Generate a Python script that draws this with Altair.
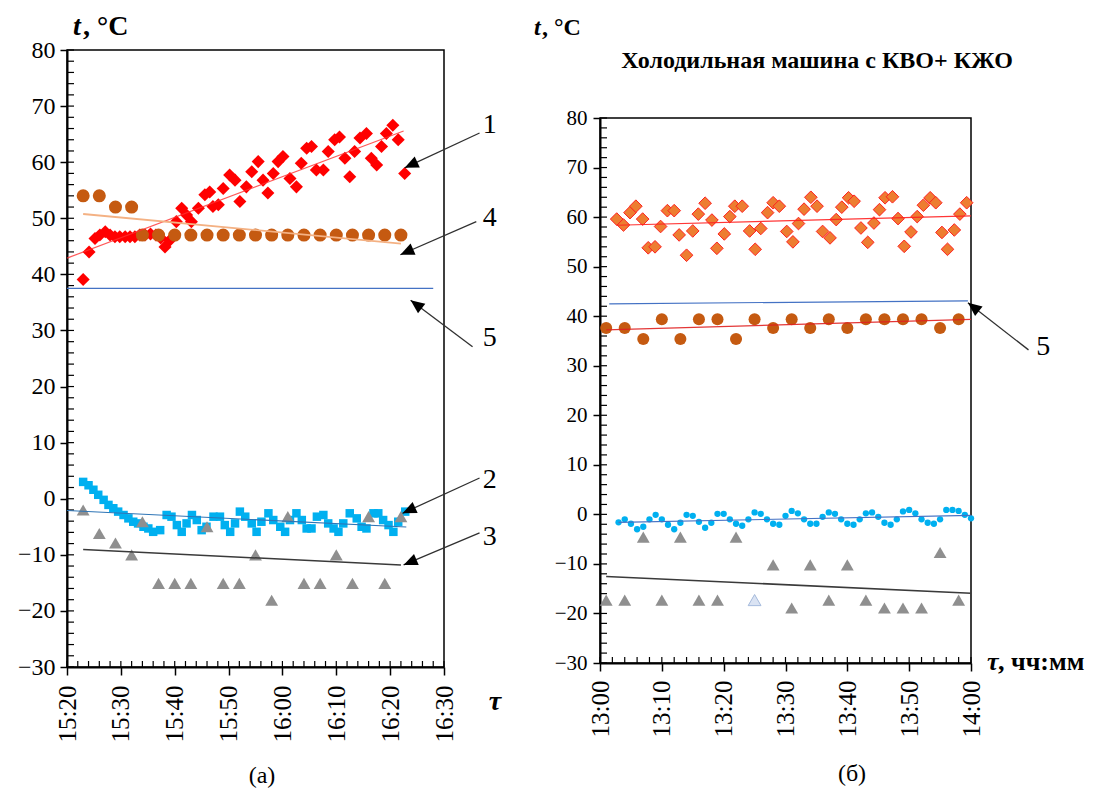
import altair as alt
import pandas as pd

FONT = "Liberation Serif"

# ---------------- Panel (а): 15:20-16:30 (minutes of the day) ----------------
a1_time = [923.0, 924.1, 925.2, 926.1, 927.1, 928.0, 928.9, 929.8, 930.8, 931.7, 932.6, 933.5, 934.5,
           935.5, 936.5, 937.4, 938.2, 939.1, 940.3, 941.3, 942.2, 943.1, 944.4, 945.6, 946.5, 947.1,
           948.1, 949.0, 950.2, 951.2, 952.1, 953.3, 954.3, 955.5, 956.4, 957.3, 958.3, 959.2, 960.1,
           961.4, 962.6, 963.5, 964.5, 965.4, 966.3, 967.6, 968.5, 969.7, 970.6, 971.6, 972.5, 973.4,
           974.4, 975.6, 976.5, 977.5, 978.4, 979.3, 980.5, 981.5, 982.7]
a1_temp = [39.1, 44.0, 46.4, 47.0, 47.6, 47.0, 46.7, 46.7, 46.7, 46.7, 46.7, 47.0, 47.0,
           47.2, 47.0, 46.5, 44.9, 46.1, 49.4, 51.8, 50.6, 49.4, 51.8, 54.2, 54.7, 52.1,
           52.4, 55.3, 57.7, 56.8, 53.0, 55.6, 58.3, 60.1, 56.8, 54.5, 58.0, 60.1, 61.0,
           57.1, 55.6, 59.8, 62.5, 62.8, 58.6, 58.6, 61.9, 64.0, 64.5, 60.7, 57.4, 61.9,
           64.3, 65.1, 60.7, 59.5, 62.8, 65.1, 66.6, 64.0, 58.0]

a2_time = [923.0, 924.0, 924.9, 925.8, 926.8, 927.7, 928.6, 929.5, 930.5, 931.4, 932.3, 933.2, 934.2,
           935.1, 936.0, 937.3, 938.5, 939.4, 940.4, 941.3, 942.2, 943.2, 944.1, 945.0, 945.9, 947.2,
           948.4, 949.3, 950.3, 951.2, 952.1, 953.1, 954.3, 955.2, 956.1, 957.4, 958.3, 959.6, 960.5,
           961.4, 962.6, 963.6, 964.5, 965.4, 966.4, 967.6, 968.5, 969.5, 970.4, 971.3, 972.5, 973.8,
           974.7, 975.6, 976.9, 977.8, 978.7, 979.7, 980.6, 981.5, 982.8]
a2_temp = [3.0, 2.4, 1.6, 0.7, -0.2, -1.1, -1.7, -2.3, -2.9, -3.5, -4.1, -4.4, -5.0,
           -5.3, -5.9, -5.6, -2.9, -3.2, -4.7, -5.9, -4.4, -2.9, -3.8, -5.6, -5.0, -3.2,
           -3.2, -4.7, -5.9, -4.4, -2.3, -3.2, -4.4, -5.9, -4.1, -2.6, -3.8, -5.0, -5.9,
           -3.8, -2.6, -3.8, -5.3, -5.3, -3.2, -2.9, -4.4, -5.3, -5.9, -4.4, -2.6, -3.5,
           -5.0, -5.3, -2.6, -2.6, -3.8, -4.7, -5.9, -4.1, -2.3]

a34_time = [923, 926, 929, 932, 934, 937, 940, 943, 946, 949, 952, 955, 958, 961, 964, 967,
            970, 973, 976, 979, 982]
a3_temp = [-2.0, -6.2, -7.9, -10.0, -4.1, -15.1, -15.1, -15.1, -5.0, -15.1, -15.1, -10.0, -18.1,
           -3.2, -15.1, -15.1, -10.0, -15.1, -3.2, -15.1, -3.2]
a4_temp = [54, 54, 52, 52, 47, 47, 47, 47, 47, 47, 47, 47, 47, 47, 47, 47, 47, 47, 47, 47, 47]

a5_time = [920, 988]
a5_temp = [37.5, 37.5]

# arrows of panel (а): label, start (t, v), tip (t, v), head angle
a_lab = ["1", "4", "5", "2", "3"]
a_lab_v = [66.6, 50.1, 28.7, 3.4, -6.8]
a_t0 = [996.6, 996.0, 995.3, 996.6, 996.6]
a_v0 = [65.2, 49.4, 27.1, 3.7, -6.1]
a_t1 = [982.7, 981.9, 983.8, 982.3, 982.5]
a_v1 = [59.0, 43.5, 35.4, -2.6, -11.8]
a_ang = [245, 246, 307, 245.5, 247]

# ---------------- Panel (б): 13:00-14:00 ----------------
b1_time = [782.7, 783.8, 784.85, 785.8, 786.9, 787.8, 788.9, 789.8, 790.9, 792.0, 792.8, 794.0,
           795.0, 795.9, 797.0, 798.1, 798.9, 800.1, 801.0, 801.8, 803.0, 804.2, 805.1, 806.0,
           807.1, 808.0, 809.0, 810.2, 811.2, 812.1, 813.0, 814.1, 815.1, 816.0, 817.2, 818.2,
           819.1, 820.2, 821.1, 822.2, 823.3, 824.3, 825.2, 826.1, 827.3, 828.2, 829.2, 830.3,
           831.3, 832.3, 833.4, 834.3, 835.3, 836.2, 837.3, 838.2, 839.3]
b1_temp = [59.6, 58.4, 60.9, 62.2, 59.6, 53.8, 54.0, 58.1, 61.3, 61.3, 56.4, 52.3, 57.2, 60.6,
           62.8, 59.4, 53.7, 56.6, 60.1, 62.2, 62.2, 57.2, 53.5, 57.7, 60.9, 62.9, 62.2, 57.1,
           55.0, 58.7, 61.6, 64.0, 62.2, 57.1, 55.8, 59.5, 62.0, 63.9, 63.2, 57.8, 54.9, 58.8,
           61.5, 63.9, 64.1, 59.7, 54.1, 57.0, 60.1, 62.4, 63.9, 62.9, 56.9, 53.5, 57.4, 60.6, 62.9]

b2_time = list(range(783, 841))
b2_temp = [-1.6, -1.0, -1.9, -3.0, -2.5, -1.0, -0.1, -1.0, -2.1, -3.0, -1.7, -0.1, -0.3, -1.5,
           -2.7, -1.7, 0.1, 0.1, -1.0, -1.9, -2.3, -1.0, 0.4, 0.1, -1.0, -1.9, -2.1, -0.3,
           0.7, 0.2, -1.0, -1.9, -1.9, -0.5, 0.4, 0.1, -1.0, -1.9, -2.1, -1.0, 0.2, 0.4,
           -0.5, -1.7, -2.1, -1.0, 0.6, 0.9, 0.2, -1.0, -1.7, -1.9, -1.0, 0.9, 0.9, 0.7, -0.1, -0.8]

b34_time = [781, 784, 787, 790, 793, 796, 799, 802, 805, 808, 811, 814, 817, 820, 823, 826,
            829, 832, 835, 838]
b3_temp = [-17.3, -17.3, -4.6, -17.3, -4.6, -17.3, -17.3, -4.6, -17.3, -10.2, -18.9, -10.2,
           -17.3, -10.2, -17.3, -18.9, -18.9, -18.9, -7.7, -17.3]
b3_pale_time = [805]
b3_pale_temp = [-17.3]
b4_temp = [37.6, 37.6, 35.4, 39.4, 35.4, 39.4, 39.4, 35.4, 39.4, 37.6, 39.4, 37.6, 39.4, 37.6,
           39.4, 39.4, 39.4, 39.4, 37.6, 39.4]

b5_time = [781.5, 839.5]
b5_temp = [42.5, 43.1]

b_lab = ["5"]
b_lab_v = [33.8]
b_t0 = [849.3]
b_v0 = [33.2]
b_t1 = [839.5]
b_v1 = [42.7]
b_ang = [308]

# tick values
Y_MAJ = list(range(-30, 81, 10))
Y_MIN = list(range(-30, 81, 2))
A_XMAJ = list(range(920, 991, 10))
A_XMIN = list(range(920, 991, 2))
B_XMAJ = list(range(780, 841, 10))
B_XMIN = list(range(780, 841, 2))

LBL = "floor(datum.value/60) + ':' + (datum.value % 60 < 10 ? '0' : '') + (datum.value % 60)"
ONE = pd.DataFrame({"k": [0]})
HEAD = "M0,0L-0.7,1.6L0.7,1.6Z"


def df(t, v):
    return pd.DataFrame({"t": t, "v": v})


def txt(s, x, y, size, weight="normal", style="normal", align="left", baseline="alphabetic", opacity=1):
    return alt.Chart(ONE).mark_text(
        text=s, font=FONT, fontSize=size, fontWeight=weight, fontStyle=style,
        align=align, baseline=baseline, color="black", opacity=opacity
    ).encode(x=alt.value(x), y=alt.value(y))


def build(xdom, xmaj, xmin, W, H, top, ylab_size, ylab_pad, xlab_size, xlab_pad,
          series, trends, arrows, texts):
    xs = alt.Scale(domain=xdom, nice=False, zero=False)
    ys = alt.Scale(domain=[-30, 80], nice=False, zero=False, range=[H, top])
    ax_x = alt.Axis(values=xmaj, labelExpr=LBL, labelAngle=270, labelFont=FONT, labelFontSize=xlab_size,
                    labelColor="black", labelPadding=xlab_pad, labelFlush=False, labelOverlap=False,
                    tickSize=8, tickWidth=1.5, tickColor="black", domainColor="black", domainWidth=2,
                    grid=False, title=None)
    ax_y = alt.Axis(values=Y_MAJ, labelFont=FONT, labelFontSize=ylab_size, labelColor="black",
                    labelPadding=ylab_pad, labelOverlap=False, tickSize=7, tickWidth=1.5, tickColor="black",
                    domainColor="black", domainWidth=2, grid=False, title=None)

    def X(f):
        return alt.X(f + ":Q", scale=xs, axis=ax_x)

    def Y(f):
        return alt.Y(f + ":Q", scale=ys, axis=ax_y)

    layers = []
    # plot frame (top and right borders)
    layers.append(alt.Chart(ONE).mark_rect(filled=False, stroke="black", strokeWidth=1.5).encode(
        x=alt.value(0), x2=alt.value(W), y=alt.value(top), y2=alt.value(H)))
    # minor ticks (inside the plot) through the scales
    layers.append(alt.Chart(pd.DataFrame({"v": Y_MIN})).mark_rule(color="black", strokeWidth=1.2).encode(
        y=Y("v"), x=alt.value(0), x2=alt.value(7)))
    layers.append(alt.Chart(pd.DataFrame({"t": xmin})).mark_rule(color="black", strokeWidth=1.2).encode(
        x=X("t"), y=alt.value(H - 6), y2=alt.value(H)))

    for (d, shape, size, fill, stroke, sw) in series:
        layers.append(alt.Chart(d).mark_point(shape=shape, size=size, filled=True, fill=fill, stroke=stroke,
                                              strokeWidth=sw, opacity=1).encode(x=X("t"), y=Y("v")))
    for (d, color, width, extent, op) in trends:
        if extent is None:
            layers.append(alt.Chart(d).mark_line(color=color, strokeWidth=width, opacity=op).encode(
                x=X("t"), y=Y("v")))
        else:
            layers.append(alt.Chart(d).transform_regression("t", "v", extent=extent)
                          .mark_line(color=color, strokeWidth=width, opacity=op).encode(x=X("t"), y=Y("v")))
    ad = arrows
    layers.append(alt.Chart(ad).mark_rule(color="#303030", strokeWidth=1.3).encode(
        x=X("t0"), y=Y("v0"), x2="t1", y2="v1"))
    layers.append(alt.Chart(ad).mark_point(shape=HEAD, size=300, filled=True, fill="black", stroke="black",
                                           strokeWidth=0, opacity=1).encode(
        x=X("t1"), y=Y("v1"), angle=alt.Angle("ang:Q", scale=None)))
    layers.append(alt.Chart(ad).mark_text(font=FONT, fontSize=28, align="center", baseline="middle",
                                          color="black").encode(x=X("tl"), y=Y("vl"), text="lab:N"))
    layers.extend(texts)
    return alt.layer(*layers).properties(width=W, height=H)


# ----- panel (а) -----
a_arrows = pd.DataFrame({"t0": a_t0, "v0": a_v0, "t1": a_t1, "v1": a_v1, "ang": a_ang,
                         "lab": a_lab, "vl": a_lab_v, "tl": [998.5] * len(a_lab)})
left = build(
    [920, 990], A_XMAJ, A_XMIN, 377, 617, 0, 24, 5, 25, 10,
    series=[
        (df(a2_time, a2_temp), "square", 72, "#00B0F0", "#00B0F0", 0),
        (df(a34_time, a3_temp), "triangle-up", 165, "#8F8F8F", "#8F8F8F", 0),
        (df(a1_time, a1_temp), "diamond", 170, "#FF0000", "#FF0000", 0),
        (df(a34_time, a4_temp), "circle", 170, "#C55A11", "#C55A11", 0),
    ],
    trends=[
        (df(a1_time, a1_temp), "#FF3030", 1.2, [920, 982.5], 0.8),
        (df(a34_time, a4_temp), "#F4B183", 1.8, [923, 982], 1),
        (df(a2_time, a2_temp), "#2E75B6", 1.1, [920, 983], 1),
        (df(a34_time, a3_temp), "#3A3A3A", 1.5, [923, 982], 1),
        (df(a5_time, a5_temp), "#4472C4", 1.2, None, 1),
    ],
    arrows=a_arrows,
    texts=[
        txt("t", 6, -15, 28, "bold", "italic"),
        txt(", °C", 16, -15, 28, "bold"),
        txt("τ", 428, 660, 28, "bold", "italic", align="center"),
        txt("(а)", 195, 733, 24, align="center"),
        txt(".", -59, -42, 10, align="left", baseline="top", opacity=0),
        txt(".", 443, -42, 10, align="right", baseline="top", opacity=0),
    ],
)

# ----- panel (б): plot area spans 68..613 px of a 613 px tall view -----
b_arrows = pd.DataFrame({"t0": b_t0, "v0": b_v0, "t1": b_t1, "v1": b_v1, "ang": b_ang,
                         "lab": b_lab, "vl": b_lab_v, "tl": [851.7]})
right = build(
    [780, 840], B_XMAJ, B_XMIN, 371, 613, 68, 21, 6, 25, 9,
    series=[
        (df(b1_time, b1_temp), "diamond", 160, "#ED7D31", "#FF2020", 1),
        (df(b34_time, b4_temp), "circle", 145, "#C55A11", "#C55A11", 0),
        (df(b2_time, b2_temp), "circle", 40, "#00B0F0", "#00B0F0", 0),
        (df(b34_time, b3_temp), "triangle-up", 165, "#8F8F8F", "#8F8F8F", 0),
        (df(b3_pale_time, b3_pale_temp), "triangle-up", 165, "#DAE3F3", "#A9BEE0", 1),
    ],
    trends=[
        (df(b1_time, b1_temp), "#FF2020", 1.2, [782.7, 840], 0.9),
        (df(b34_time, b4_temp), "#E02020", 1.2, [781, 840], 0.9),
        (df(b2_time, b2_temp), "#4472C4", 1.1, [783, 840], 1),
        (df(b34_time, b3_temp), "#3A3A3A", 1.5, [781, 840], 1),
        (df(b5_time, b5_temp), "#4472C4", 1.2, None, 1),
    ],
    arrows=b_arrows,
    texts=[
        txt("t", -66, -15, 24, "bold", "italic"),
        txt(", °C", -58, -15, 24, "bold"),
        txt("Холодильная машина с КВО+ КЖО", 217, 18, 24, "bold", align="center"),
        txt("τ", 387, 620, 26, "bold", "italic"),
        txt(", чч:мм", 398, 620, 26, "bold"),
        txt("(б)", 252, 731, 24, align="center"),
        txt(".", -80, -42, 10, align="left", baseline="top", opacity=0),
    ],
)

chart = alt.hconcat(left, right, spacing=10, bounds="full").properties(
    padding=0, background="white"
).configure_view(stroke=None)

chart.save("out.html", embed_options={"renderer": "svg", "actions": False})
